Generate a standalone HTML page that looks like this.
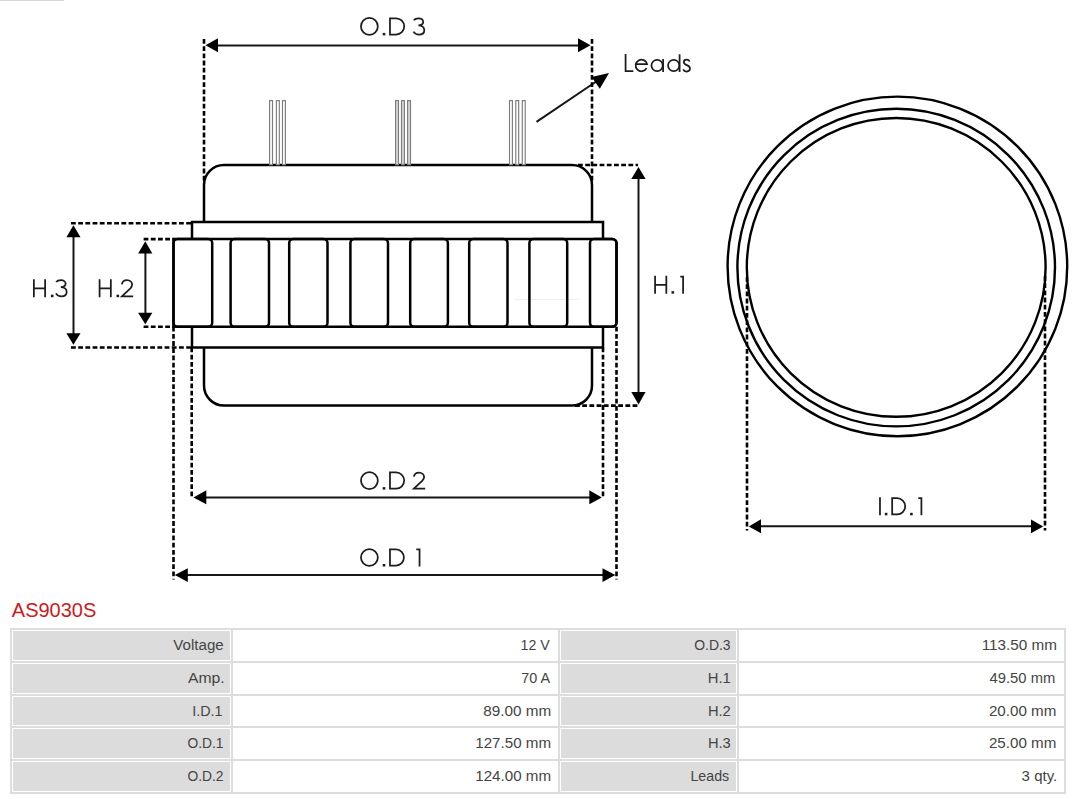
<!DOCTYPE html>
<html>
<head>
<meta charset="utf-8">
<style>
html,body{margin:0;padding:0;background:#fff;}
body{width:1080px;height:799px;position:relative;overflow:hidden;font-family:"Liberation Sans",sans-serif;}
svg{position:absolute;left:0;top:0;}
.title{position:absolute;left:11.8px;top:598px;font-size:20px;color:#cc1a22;line-height:24px;white-space:nowrap;}
.tb{position:absolute;left:10px;top:628px;width:1056px;height:166px;background:#dddddd;}
.c{position:absolute;box-sizing:border-box;font-size:14px;color:#444;text-align:right;white-space:nowrap;}
.l{background:#dcdcdc;border:1px solid #fff;}
.v{background:#fff;}
.t{position:absolute;font-size:14px;line-height:16px;color:#444;white-space:nowrap;transform-origin:100% 50%;}
</style>
</head>
<body>
<svg width="1080" height="799" viewBox="0 0 1080 799">
<line x1="515" y1="299.5" x2="580" y2="299.5" stroke="#eeeeee" stroke-width="1"/>
  <g fill="none" stroke="#000" stroke-width="2.5">
    <!-- upper body -->
    <path d="M204,222 V185 A20,20 0 0 1 224,165 H572 A20,20 0 0 1 592,185 V222"/>
    <!-- upper flange -->
    <path d="M192,239 V222 H603 V239"/>
    <!-- teeth band -->
    <path d="M173.5,239 H612 A4.5,4.5 0 0 1 616.5,243.5 V322.2 A4.5,4.5 0 0 1 612,326.7 H173.5 Z"/>
    <!-- teeth -->
    <rect x="173.5" y="239" width="38.7" height="87.7" rx="4"/>
    <rect x="230.6" y="239" width="38.4" height="87.7" rx="4"/>
    <rect x="289.2" y="239" width="38.3" height="87.7" rx="4"/>
    <rect x="350.4" y="239" width="37.6" height="87.7" rx="4"/>
    <rect x="410.2" y="239" width="37.7" height="87.7" rx="4"/>
    <rect x="469.2" y="239" width="38.3" height="87.7" rx="4"/>
    <rect x="529.4" y="239" width="37.8" height="87.7" rx="4"/>
    <rect x="590" y="239" width="26.5" height="87.7" rx="4"/>
    <!-- lower flange -->
    <path d="M192,326.7 V347.5 H603 V326.7"/>
    <!-- lower body -->
    <path d="M204,347.5 V385.6 A20,20 0 0 0 224,405.6 H572 A20,20 0 0 0 592,385.6 V347.5"/>
  </g>
  <g fill="none" stroke="#000" stroke-width="2.4">
    <!-- circles -->
    <circle cx="897.4" cy="266.4" r="169.8"/>
    <circle cx="896.2" cy="267.6" r="158.8"/>
    <circle cx="896.2" cy="267.4" r="149.4"/>
  </g>
  <g fill="none" stroke="#161616" stroke-width="2.0">
    <!-- dimension lines -->
    <line x1="212" y1="45.5" x2="584" y2="45.5"/>
    <line x1="200" y1="497.5" x2="595" y2="497.5"/>
    <line x1="181" y1="575" x2="609" y2="575"/>
    <line x1="755" y1="526.3" x2="1037" y2="526.3"/>
    <line x1="73.5" y1="231" x2="73.5" y2="339"/>
    <line x1="145.4" y1="247" x2="145.4" y2="318"/>
    <line x1="638.5" y1="173" x2="638.5" y2="398"/>
    <line x1="536.5" y1="121.8" x2="600" y2="79"/>
  </g>
  <g fill="none" stroke="#000" stroke-width="2.6" stroke-dasharray="4.8 2.4">
    <line x1="71" y1="223.3" x2="192" y2="223.3"/>
    <line x1="71" y1="347.5" x2="192" y2="347.5"/>
    <line x1="143.6" y1="239.1" x2="173.5" y2="239.1"/>
    <line x1="143.6" y1="326.7" x2="173.5" y2="326.7"/>
    <line x1="578" y1="165" x2="638" y2="165"/>
    <line x1="575" y1="405.6" x2="638" y2="405.6"/>
    <line x1="204" y1="39" x2="204" y2="182"/>
    <line x1="592" y1="39" x2="592" y2="182"/>
    <line x1="191.7" y1="347.5" x2="191.7" y2="497.8"/>
    <line x1="603" y1="347.5" x2="603" y2="497.8"/>
    <line x1="173.5" y1="326.7" x2="173.5" y2="579.6"/>
    <line x1="616.5" y1="326.7" x2="616.5" y2="579.6"/>
    <line x1="747" y1="277" x2="747" y2="530.5"/>
    <line x1="1045" y1="276" x2="1045" y2="530.5"/>
  </g>
  <g fill="#000" stroke="none">
    <!-- O.D 3 -->
    <polygon points="205.5,45.3 218,38.3 218,52.2"/>
    <polygon points="590.5,45.3 578,38.3 578,52.2"/>
    <!-- O.D 2 -->
    <polygon points="193.5,497.5 206.3,490.3 206.3,504.2"/>
    <polygon points="601.8,497.5 589.3,490.3 589.3,504.2"/>
    <!-- O.D 1 -->
    <polygon points="174.8,575 187.8,568.3 187.8,581.9"/>
    <polygon points="615.3,575 602.5,568.3 602.5,581.9"/>
    <!-- I.D.1 -->
    <polygon points="748.75,526.4 761,519.3 761,533.3"/>
    <polygon points="1043.25,526.4 1031,519.5 1031,533.2"/>
    <!-- H.3 -->
    <polygon points="73.4,225.2 66.4,237.3 80.5,237.3"/>
    <polygon points="73.4,344.8 66.4,333.3 80.5,333.3"/>
    <!-- H.2 -->
    <polygon points="145.3,241.3 138.1,253.5 152.3,253.5"/>
    <polygon points="145.3,324.3 138.1,312.8 152.3,312.8"/>
    <!-- H.1 -->
    <polygon points="638.5,167 631.3,179 645.6,179"/>
    <polygon points="638.5,404.4 631.3,392 645.6,392"/>
    <!-- Leads -->
    <polygon points="609,73 591.6,77 599.8,88.7"/>
  </g>
  <!-- leads wires -->
  <g fill="#fff" stroke="#7c7c7c" stroke-width="1.15">
    <rect x="269.6" y="100.6" width="2.9" height="64.2"/>
    <rect x="276.4" y="100.6" width="2.9" height="64.2"/>
    <rect x="282.5" y="100.6" width="2.9" height="64.2"/>
    <rect x="395.6" y="100.6" width="2.9" height="64.2" fill="#d9d9d9"/>
    <rect x="401.5" y="100.6" width="2.9" height="64.2" fill="#d9d9d9"/>
    <rect x="407.6" y="100.6" width="2.9" height="64.2" fill="#d9d9d9"/>
    <rect x="509.5" y="100.6" width="2.9" height="64.2"/>
    <rect x="515.8" y="100.6" width="2.9" height="64.2"/>
    <rect x="522.3" y="100.6" width="2.9" height="64.2"/>
  </g>
<!--GLYPHS-->
  <g fill="none" stroke="#1c1c1c" stroke-width="1.75" stroke-linejoin="miter" stroke-linecap="butt">
    <circle cx="369.40" cy="26.40" r="8.43"/>
    <rect x="382.70" y="32.90" width="2.6" height="2.5" fill="#1c1c1c" stroke="none"/>
    <path d="M389.98,18.27 H396.08 A8.125,8.125 0 0 1 396.08,34.52 H389.98 Z"/>
    <path d="M 413.75,20.30 C 414.80,18.80 416.60,18.25 418.60,18.25 C 421.20,18.25 423.20,19.80 423.20,21.80 C 423.20,23.90 421.20,25.40 418.40,25.40 C 421.80,25.40 424.30,27.40 424.30,30.20 C 424.30,33.00 421.90,34.55 418.90,34.55 C 416.50,34.55 414.50,33.20 413.50,31.60"/>
    <circle cx="369.40" cy="480.60" r="8.43"/>
    <rect x="382.70" y="487.10" width="2.6" height="2.5" fill="#1c1c1c" stroke="none"/>
    <path d="M389.98,472.48 H396.08 A8.125,8.125 0 0 1 396.08,488.73 H389.98 Z"/>
    <path d="M 413.80,476.70 C 414.30,474.20 416.40,472.50 419.00,472.50 C 421.80,472.50 424.10,474.50 424.10,477.00 C 424.10,478.50 423.40,479.60 422.40,480.70 L 413.90,488.70 L 425.20,488.70"/>
    <circle cx="369.40" cy="557.50" r="8.43"/>
    <rect x="382.70" y="564.00" width="2.6" height="2.5" fill="#1c1c1c" stroke="none"/>
    <path d="M389.98,549.38 H396.08 A8.125,8.125 0 0 1 396.08,565.62 H389.98 Z"/>
    <path d="M416.30,549.38 H419.55 V566.50"/>
    <path d="M879.98,497.30 V515.30"/>
    <rect x="884.80" y="512.80" width="2.6" height="2.5" fill="#1c1c1c" stroke="none"/>
    <path d="M892.17,498.17 H897.07 A8.125,8.125 0 0 1 897.07,514.42 H892.17 Z"/>
    <rect x="910.10" y="512.80" width="2.6" height="2.5" fill="#1c1c1c" stroke="none"/>
    <path d="M918.30,498.17 H921.40 V515.30"/>
    <path d="M655.08,275.65 V293.65 M666.33,275.65 V293.65 M655.08,284.75 H666.33"/>
    <rect x="671.50" y="291.15" width="2.6" height="2.5" fill="#1c1c1c" stroke="none"/>
    <path d="M680.30,276.52 H683.10 V293.65"/>
    <path d="M33.88,279.20 V297.20 M45.12,279.20 V297.20 M33.88,288.30 H45.12"/>
    <rect x="50.90" y="294.70" width="2.6" height="2.5" fill="#1c1c1c" stroke="none"/>
    <path d="M 56.15,282.10 C 57.20,280.60 59.00,280.05 61.00,280.05 C 63.60,280.05 65.60,281.60 65.60,283.60 C 65.60,285.70 63.60,287.20 60.80,287.20 C 64.20,287.20 66.70,289.20 66.70,292.00 C 66.70,294.80 64.30,296.35 61.30,296.35 C 58.90,296.35 56.90,295.00 55.90,293.40"/>
    <path d="M99.58,279.20 V297.20 M110.83,279.20 V297.20 M99.58,288.30 H110.83"/>
    <rect x="116.50" y="294.70" width="2.6" height="2.5" fill="#1c1c1c" stroke="none"/>
    <path d="M 121.80,284.30 C 122.30,281.80 124.40,280.10 127.00,280.10 C 129.80,280.10 132.10,282.10 132.10,284.60 C 132.10,286.10 131.40,287.20 130.40,288.30 L 121.90,296.30 L 133.20,296.30"/>
    <path d="M625.58,54.00 V71.12 H633.30"/>
    <path d="M635.70,64.10 H647.09 A5.8,5.8 0 1 0 646.57,68.17"/>
    <circle cx="657.10" cy="65.50" r="5.65"/><path d="M663.10,59.00 V72.00"/>
    <circle cx="673.70" cy="65.50" r="5.65"/><path d="M679.60,54.30 V72.00"/>
    <path d="M 689.60,61.50 C 689.00,60.10 687.90,59.70 686.60,59.70 C 684.90,59.70 683.80,60.80 683.80,62.20 C 683.80,63.80 685.30,64.50 686.80,65.10 C 688.60,65.80 690.00,66.70 690.00,68.60 C 690.00,70.40 688.60,71.50 686.60,71.50 C 685.00,71.50 683.70,70.70 683.20,69.40"/>
  </g>
<!--/GLYPHS-->
</svg>
<div style="position:absolute;left:0;top:0;width:64px;height:1px;background:#d6d6d6"></div>
<div class="title">AS9030S</div>
<div class="tb"></div>
<!--TABLE-->
<div class="c l" style="left:12px;top:630px;width:219.0px;height:31.0px"></div>
<div class="c v" style="left:233px;top:630px;width:324.5px;height:31.0px"></div>
<div class="c l" style="left:559.5px;top:630px;width:177.5px;height:31.0px"></div>
<div class="c v" style="left:739px;top:630px;width:325.0px;height:31.0px"></div>
<div class="c l" style="left:12px;top:663px;width:219.0px;height:30.7px"></div>
<div class="c v" style="left:233px;top:663px;width:324.5px;height:30.7px"></div>
<div class="c l" style="left:559.5px;top:663px;width:177.5px;height:30.7px"></div>
<div class="c v" style="left:739px;top:663px;width:325.0px;height:30.7px"></div>
<div class="c l" style="left:12px;top:695.7px;width:219.0px;height:30.7px"></div>
<div class="c v" style="left:233px;top:695.7px;width:324.5px;height:30.7px"></div>
<div class="c l" style="left:559.5px;top:695.7px;width:177.5px;height:30.7px"></div>
<div class="c v" style="left:739px;top:695.7px;width:325.0px;height:30.7px"></div>
<div class="c l" style="left:12px;top:728.4px;width:219.0px;height:30.7px"></div>
<div class="c v" style="left:233px;top:728.4px;width:324.5px;height:30.7px"></div>
<div class="c l" style="left:559.5px;top:728.4px;width:177.5px;height:30.7px"></div>
<div class="c v" style="left:739px;top:728.4px;width:325.0px;height:30.7px"></div>
<div class="c l" style="left:12px;top:761.1px;width:219.0px;height:30.7px"></div>
<div class="c v" style="left:233px;top:761.1px;width:324.5px;height:30.7px"></div>
<div class="c l" style="left:559.5px;top:761.1px;width:177.5px;height:30.7px"></div>
<div class="c v" style="left:739px;top:761.1px;width:325.0px;height:30.7px"></div>
<div class="t" style="right:855.90px;top:636.85px;transform:scaleX(1.0783)">Voltage</div>
<div class="t" style="right:530.40px;top:636.85px;transform:scaleX(1.0143)">12 V</div>
<div class="t" style="right:349.30px;top:636.85px;transform:scaleX(0.9946)">O.D.3</div>
<div class="t" style="right:23.30px;top:636.85px;transform:scaleX(1.0912)">113.50 mm</div>
<div class="t" style="right:855.70px;top:669.68px;transform:scaleX(1.1226)">Amp.</div>
<div class="t" style="right:530.40px;top:669.68px;transform:scaleX(1.0296)">70 A</div>
<div class="t" style="right:349.50px;top:669.68px;transform:scaleX(1.0600)">H.1</div>
<div class="t" style="right:24.30px;top:669.68px;transform:scaleX(1.0549)">49.50 mm</div>
<div class="t" style="right:857.00px;top:702.51px;transform:scaleX(1.0252)">I.D.1</div>
<div class="t" style="right:529.20px;top:702.51px;transform:scaleX(1.0918)">89.00 mm</div>
<div class="t" style="right:349.00px;top:702.51px;transform:scaleX(1.0500)">H.2</div>
<div class="t" style="right:23.50px;top:702.51px;transform:scaleX(1.0820)">20.00 mm</div>
<div class="t" style="right:856.70px;top:735.34px;transform:scaleX(0.9886)">O.D.1</div>
<div class="t" style="right:529.20px;top:735.34px;transform:scaleX(1.0824)">127.50 mm</div>
<div class="t" style="right:349.00px;top:735.34px;transform:scaleX(1.0500)">H.3</div>
<div class="t" style="right:23.50px;top:735.34px;transform:scaleX(1.0820)">25.00 mm</div>
<div class="t" style="right:856.70px;top:768.17px;transform:scaleX(0.9886)">O.D.2</div>
<div class="t" style="right:529.20px;top:768.17px;transform:scaleX(1.0824)">124.00 mm</div>
<div class="t" style="right:351.00px;top:768.17px;transform:scaleX(1.0136)">Leads</div>
<div class="t" style="right:22.50px;top:768.17px;transform:scaleX(1.0717)">3 qty.</div>
<!--/TABLE-->
</body>
</html>
